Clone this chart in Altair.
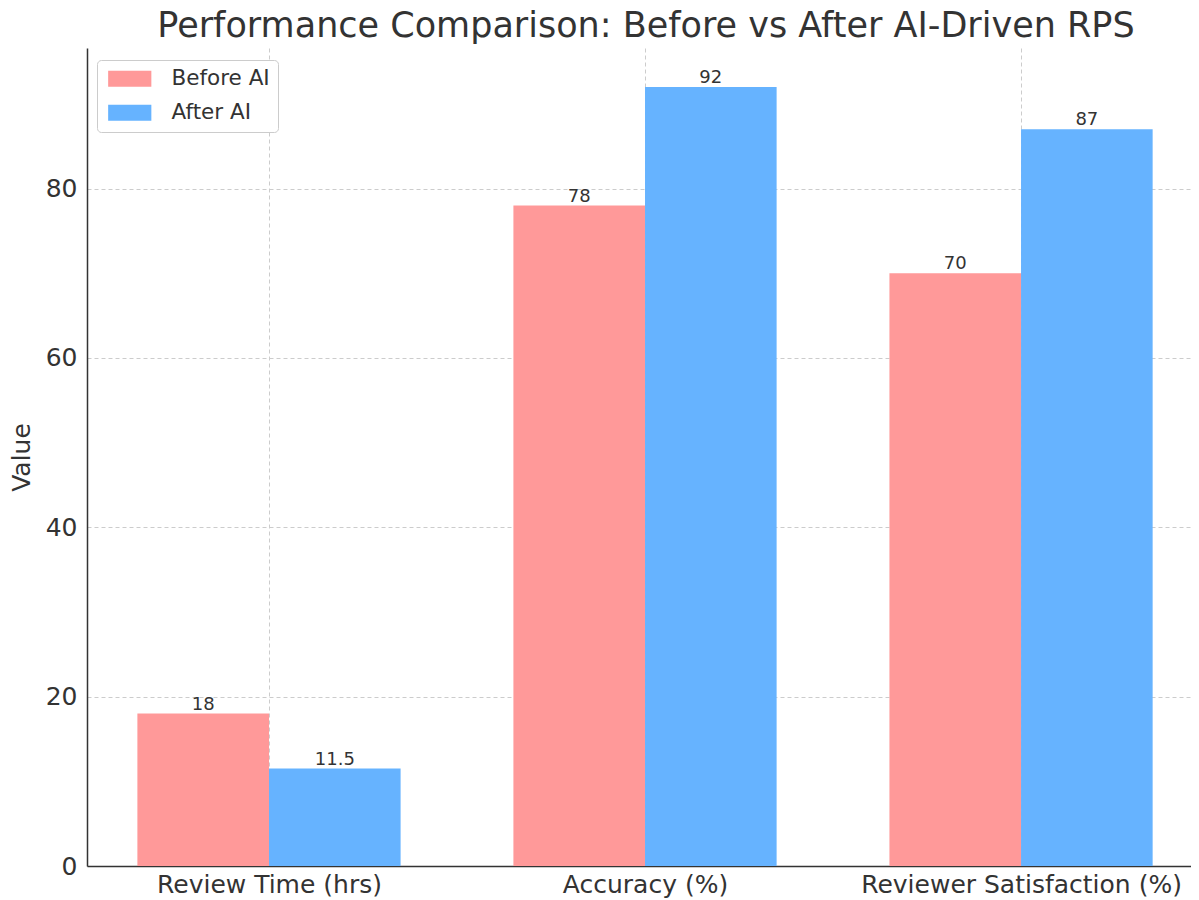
import json
import altair as alt
import pandas as pd

categories = ["Review Time (hrs)", "Accuracy (%)", "Reviewer Satisfaction (%)"]
before_ai = [18, 78, 70]
after_ai = [11.5, 92, 87]
series_names = ["Before AI", "After AI"]
series_colors = ["#ff9999", "#66b3ff"]
y_ticks = [0, 20, 40, 60, 80]

rows = []
for i, c in enumerate(categories):
    for s, vals, side in ((series_names[0], before_ai, -1), (series_names[1], after_ai, 1)):
        rows.append({"idx": i, "category": c, "series": s, "value": vals[i],
                     "side": side, "label": f"{vals[i]:g}"})
df = pd.DataFrame(rows)

BAR_W = 0.35
FONT = "DejaVu Sans"
TXT = "#333333"

label_expr = f"{json.dumps(categories)}[datum.value]"

x_scale = alt.Scale(domain=[-0.484, 2.452], nice=False, zero=False)
y_scale = alt.Scale(domain=[0, 96.6], nice=False)

base = alt.Chart(df).transform_calculate(
    xc=f"datum.idx + datum.side * {BAR_W / 2}",
    x0=f"datum.idx + datum.side * {BAR_W / 2} - {BAR_W / 2}",
    x1=f"datum.idx + datum.side * {BAR_W / 2} + {BAR_W / 2}",
)

bars = base.mark_bar(cornerRadius=0).encode(
    x=alt.X("x0:Q", scale=x_scale,
            axis=alt.Axis(values=[0, 1, 2], labelExpr=label_expr, title=None,
                          grid=True, ticks=False, labelFontSize=25, labelPadding=6,
                          labelColor=TXT, labelFont=FONT, domainColor=TXT,
                          domainWidth=1.5, gridDash=[4, 3], gridColor="#cccccc",
                          labelOverlap=False, labelLimit=600)),
    x2="x1:Q",
    y=alt.Y("value:Q", scale=y_scale,
            axis=alt.Axis(values=y_ticks, title="Value", grid=True, ticks=False,
                          labelFontSize=25, labelPadding=10, labelColor=TXT,
                          labelFont=FONT, titleFont=FONT, titleFontSize=25,
                          titleFontWeight="normal", titleColor=TXT, titlePadding=11,
                          domainColor=TXT, domainWidth=1.5, gridDash=[4, 3],
                          gridColor="#cccccc")),
    y2=alt.datum(0),
    color=alt.Color("series:N", scale=alt.Scale(domain=series_names, range=series_colors),
                    legend=alt.Legend(title=None, orient="none", legendX=10, legendY=12,
                                      symbolType="M-2.7,-1H2.7V1H-2.7Z", symbolSize=256,
                                      symbolOffset=14, labelOffset=31,
                                      symbolStrokeWidth=0,
                                      labelFontSize=21.5, labelFont=FONT, labelColor=TXT,
                                      rowPadding=11, padding=8, cornerRadius=4,
                                      strokeColor="#cccccc", fillColor="white")),
)

texts = base.mark_text(baseline="alphabetic", dy=-4, fontSize=18, font=FONT, color=TXT).encode(
    x=alt.X("xc:Q", scale=x_scale),
    y=alt.Y("value:Q", scale=y_scale),
    text="label:N",
)

chart = alt.layer(bars, texts).properties(
    width=1104, height=818,
    title=alt.TitleParams("Performance Comparison: Before vs After AI-Driven RPS",
                          fontSize=35, font=FONT, fontWeight="normal", color=TXT,
                          anchor="middle", dx=7, offset=4),
    autosize=alt.AutoSizeParams(type="none"),
    padding={"left": 79, "top": 40, "right": 0, "bottom": 34},
).configure_view(stroke=None)

chart.save("out.html", embed_options={"renderer": "svg", "actions": False})
